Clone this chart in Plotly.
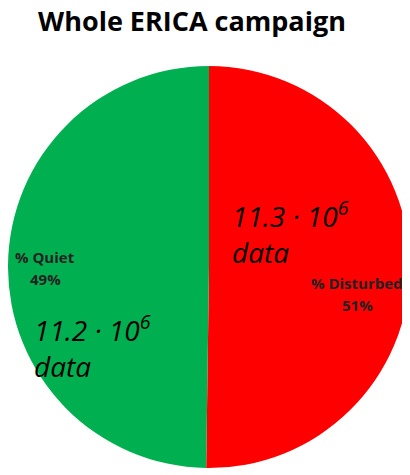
import plotly.graph_objects as go

# slice data (millions of samples)
categories = ["% Disturbed", "% Quiet"]
counts_millions = [11.3, 11.2]
pct_labels = ["51%", "49%"]
slice_colors = ["#FF0000", "#00B050"]

# page body has an 8px margin, so the figure is made smaller and
# positions below are given in window pixels then shifted
OFF = 8
W, H = 410 - OFF, 475 - OFF


def px(x, y):
    return (x - OFF) / W, 1 - (y - OFF) / H


fig = go.Figure(go.Pie(
    labels=categories,
    values=counts_millions,
    sort=False,
    direction="clockwise",
    rotation=0,
    marker=dict(colors=slice_colors, line=dict(width=0)),
    textinfo="none",
    hoverinfo="label+percent",
    domain=dict(x=[0, 1], y=[px(0, 468)[1], px(0, 66)[1]]),
    showlegend=False,
))

annotations = []

# small category / percent labels
label_pos = [(357, 283, 305), (45, 257, 279)]
for cat, pct, (lx, ly1, ly2) in zip(categories, pct_labels, label_pos):
    for txt, ly in ((cat, ly1), (pct, ly2)):
        x, y = px(lx, ly)
        annotations.append(dict(
            text=txt, x=x, y=y, xref="paper", yref="paper",
            xanchor="center", yanchor="middle", showarrow=False,
            font=dict(family="Open Sans", size=15, color="#222222", weight="bold"),
        ))

# big italic count labels
count_pos = [(230, 214, 252), (32, 328, 366)]
for val, (cx, cy1, cy2) in zip(counts_millions, count_pos):
    for txt, cy in ((f"{val} · 10<sup>6</sup>", cy1), ("data", cy2)):
        x, y = px(cx, cy)
        annotations.append(dict(
            text=txt, x=x, y=y, xref="paper", yref="paper",
            xanchor="left", yanchor="middle", showarrow=False,
            font=dict(family="Open Sans", size=28, color="black", style="italic"),
        ))

tx, ty = px(192, 22)
fig.update_layout(
    width=W, height=H,
    margin=dict(l=0, r=0, t=0, b=0),
    paper_bgcolor="white",
    plot_bgcolor="white",
    title=dict(
        text="Whole ERICA campaign",
        x=tx, y=ty, xanchor="center", yanchor="middle",
        font=dict(family="Open Sans", size=27, color="black", weight="bold"),
    ),
    annotations=annotations,
)

fig.write_html("out.html")
